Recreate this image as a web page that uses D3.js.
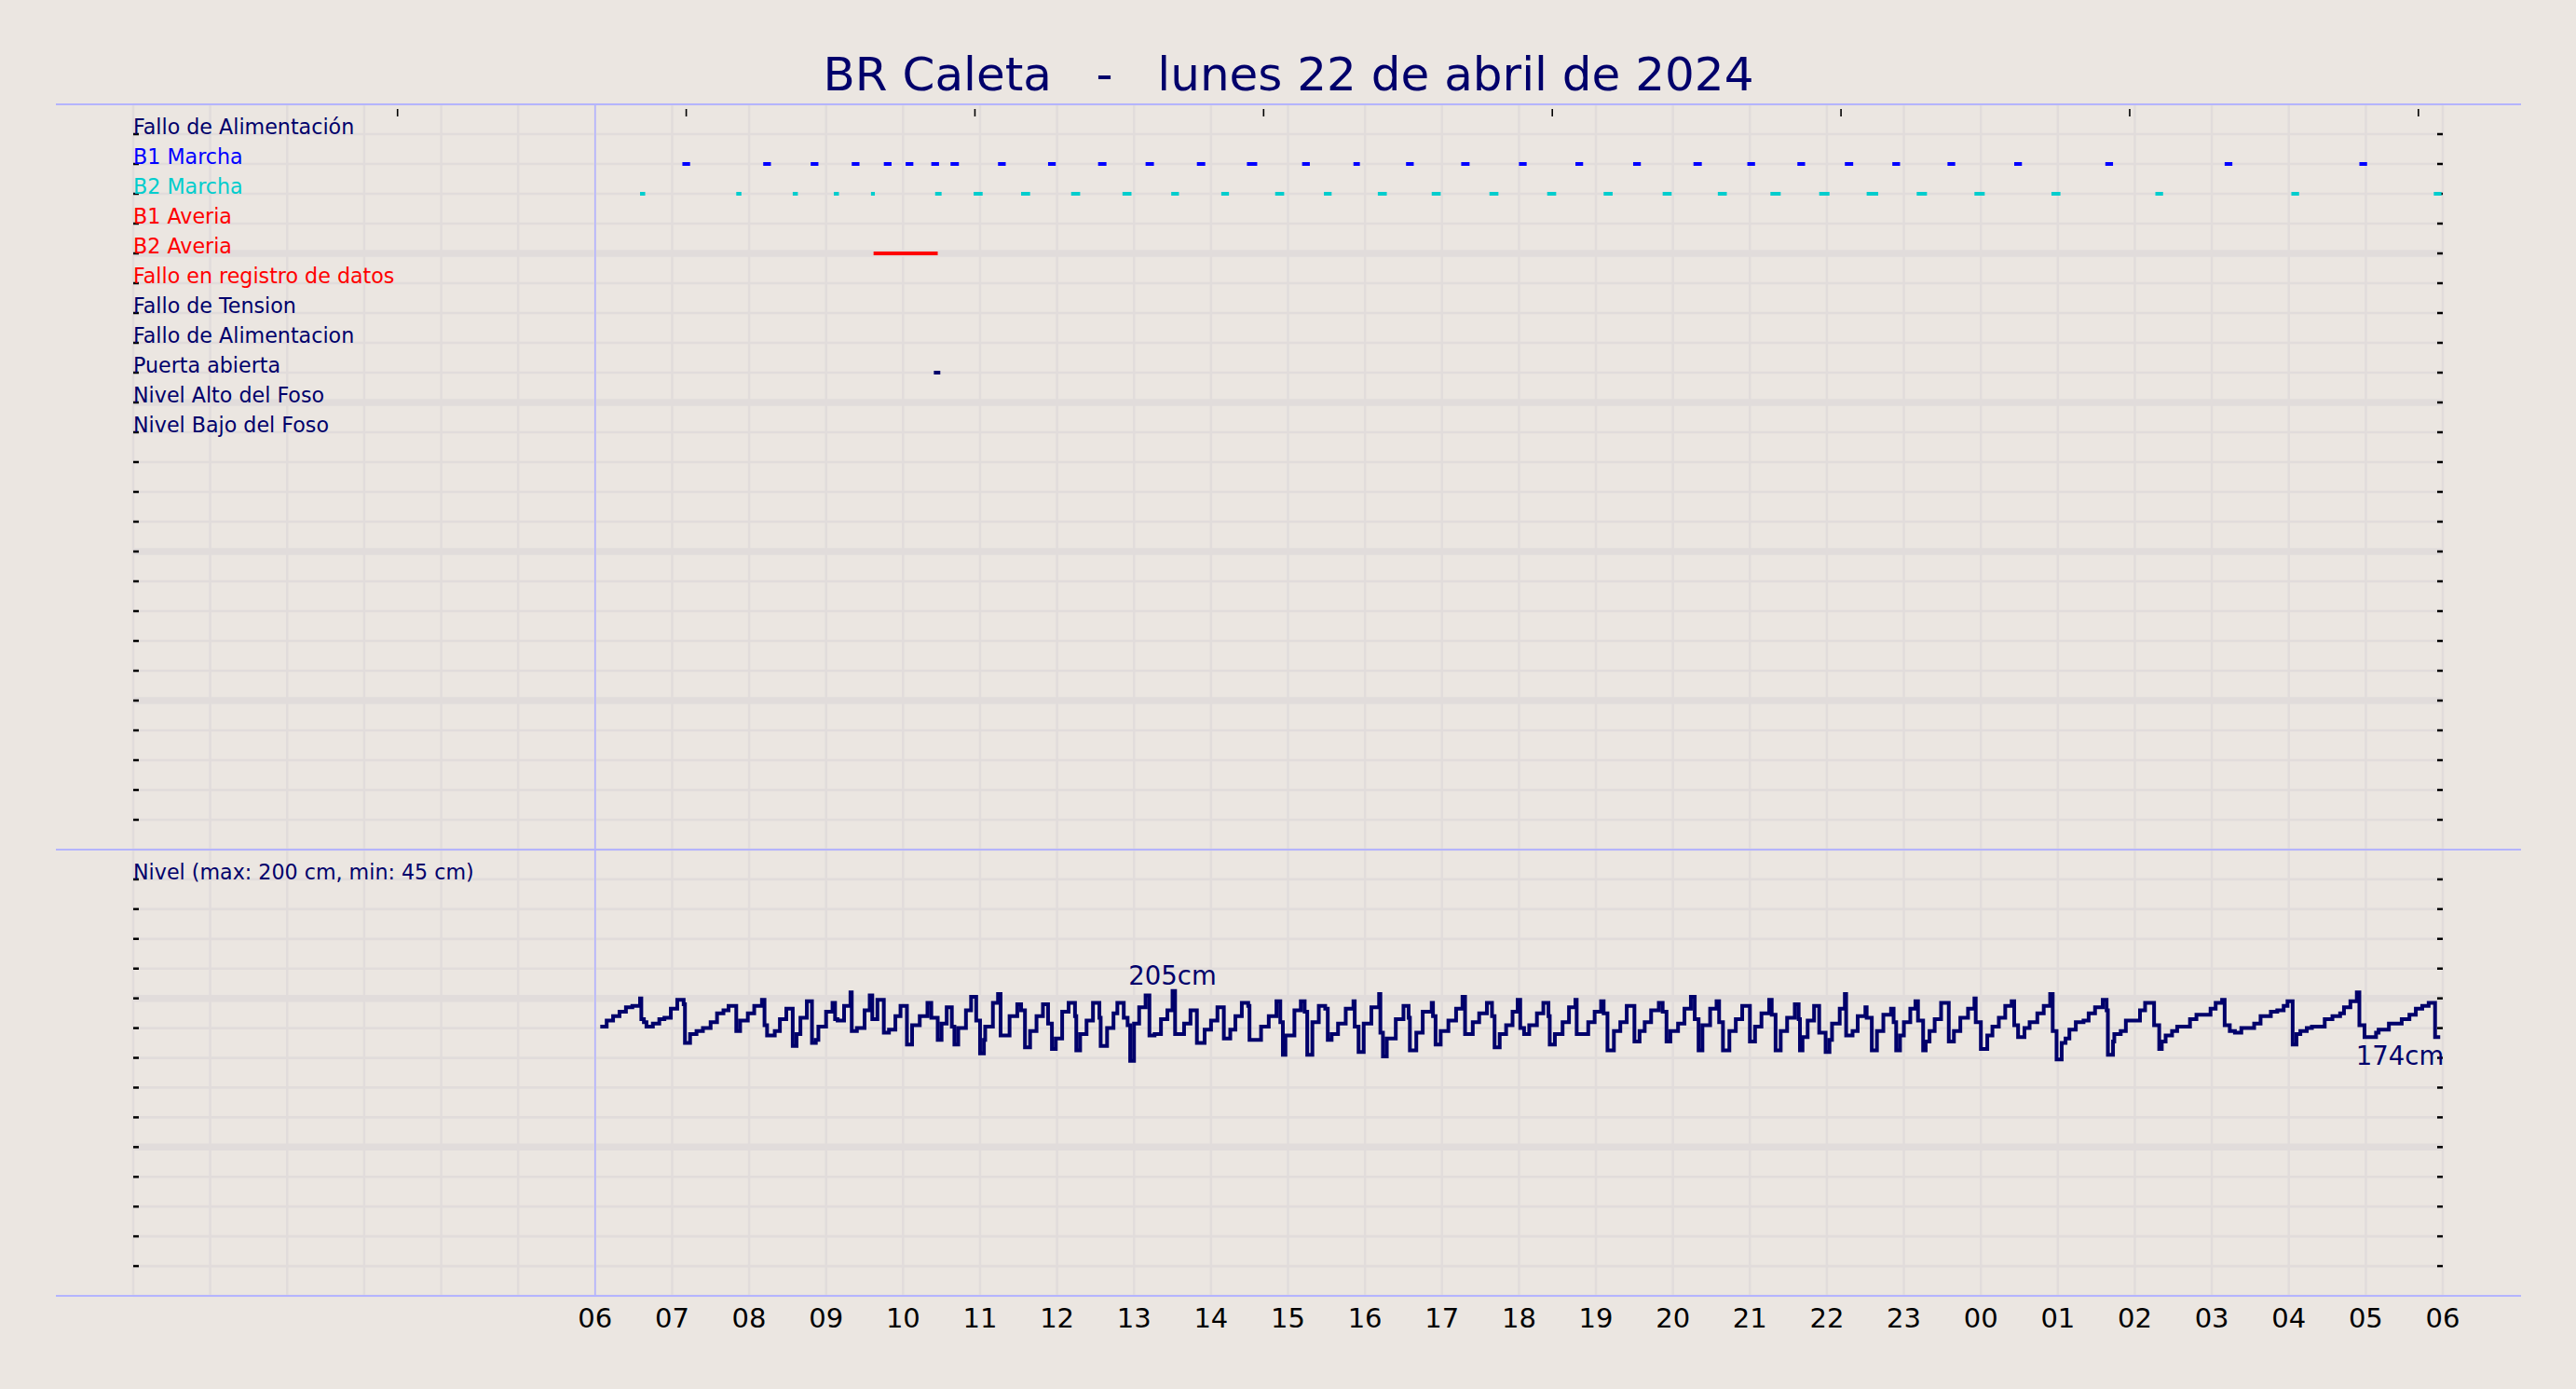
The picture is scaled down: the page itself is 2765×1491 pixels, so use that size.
<!DOCTYPE html>
<html><head><meta charset="utf-8">
<script src="https://cdn.jsdelivr.net/npm/d3@7"></script>
<style>
html,body{margin:0;padding:0;background:#ebe6e1;}
svg{display:block;font-family:"DejaVu Sans",sans-serif;}
</style>
</head><body>
<svg id="chart" width="2765" height="1491"></svg>
<script>
// ---------- DATA ----------
const chartTitle = "BR Caleta   -   lunes 22 de abril de 2024";
const signalNames = ["Fallo de Alimentación","B1 Marcha","B2 Marcha","B1 Averia","B2 Averia",
  "Fallo en registro de datos","Fallo de Tension","Fallo de Alimentacion","Puerta abierta",
  "Nivel Alto del Foso","Nivel Bajo del Foso"];
const signalColors = ["#00006b","#0000ff","#00cdcd","#ff0000","#ff0000","#ff0000",
  "#00006b","#00006b","#00006b","#00006b","#00006b"];
const levelTitle = "Nivel (max: 200 cm, min: 45 cm)";
// hour tick labels (minutes after 06:00)
const hourLabels = ["06","07","08","09","10","11","12","13","14","15","16","17","18",
  "19","20","21","22","23","00","01","02","03","04","05","06"];
const topTickMinutes = [-154, 71, 296, 521, 746, 971, 1196, 1421];

// events: start minute after 06:00, duration in minutes
const b1Start = [68,131,168,200,225,242,262,277,314,353,392,429,469,508,551,591,632,675,720,764,809,856,898,937,974,1011,1054,1106,1177,1270,1375];
const b1Dur   = [6,6,6,6,6,6,6,6.5,6,6,6.5,6.5,6.5,8,6,5,6,6.5,6,6,6,6.5,6,6,6.5,6,6,6,6,6,6];
const b2Start = [35,110,154,186,215,265,295,332,371,411,449,488,530,568,610,652,697,742,786,832,875,916,954,991,1030,1075,1135,1216,1322,1433];
const b2Dur   = [4,4,4,4,3,5,7,7,7,7,6,6,7,6,7,7,7,7,7,7,7,8,8,9,8,8,7,6,6,6];
const b2AveriaStart = [217];
const b2AveriaDur   = [50];
const puertaStart = [264];
const puertaDur   = [5];

// level (cm), step values: minute after 06:00
const levelMinute = [4,9,14,19,24,29,35,36,38,40,45,50,54,59,64,69,70,74,79,84,90,95,100,104,110,113,119,124,130,132,134,140,144,149,154,157,160,165,169,172,174,180,185,187,189,194,199,200,204,210,214,216,220,225,229,234,
238,243,247,253,259,262,267,270,274,278,280,283,289,293,297,300,303,304,310,314,316,323,329,332,335,339,344,349,353,356,359,364,369,374,375,378,383,388,393,394,399,404,407,412,415,417,420,424,429,432,436,441,446,450,452,459,464,469,475,
480,485,490,495,499,504,509,510,519,525,531,534,536,538,545,550,553,555,559,564,569,571,574,579,585,591,592,595,599,605,611,612,614,617,624,630,634,635,640,645,652,653,655,659,665,671,676,678,684,689,695,699,701,705,710,715,
719,721,724,728,734,739,743,744,748,754,759,764,765,774,779,784,786,789,794,799,804,810,814,818,823,829,832,835,838,844,849,854,857,860,863,869,874,876,879,884,889,894,900,904,909,915,917,920,924,929,935,938,939,941,945,950,
954,959,962,964,970,974,975,980,984,990,991,995,999,1004,1010,1012,1014,1017,1020,1025,1029,1031,1035,1037,1040,1044,1049,1055,1059,1064,1070,1075,1076,1080,1085,1089,1094,1099,1104,1106,1109,1114,1118,1124,1129,1134,1136,1139,1143,1146,1149,1154,1160,1164,1169,1175,1178,1179,1183,1184,1189,1193,
1204,1208,1215,1219,1221,1224,1229,1233,1243,1248,1259,1263,1268,1270,1274,1278,1283,1293,1298,1306,1311,1316,1319,1323,1326,1329,1334,1338,1348,1354,1360,1363,1368,1373,1375,1379,1388,1390,1398,1408,1414,1419,1424,1429,1434,1438];
const levelCm = [181,185,188,191,194,195,200,186,184,181,183,186,187,193,199,196,170,176,178,180,184,190,192,195,178,185,190,195,199,182,175,178,186,193,168,176,187,198,170,172,181,191,197,186,185,195,204,178,180,192,202,186,199,177,179,188,
195,169,182,188,197,187,172,183,194,181,169,180,192,201,185,163,172,181,197,203,175,188,196,192,167,178,188,196,183,166,173,191,197,188,165,176,185,197,187,168,180,190,197,187,182,158,183,194,202,175,176,186,192,205,176,183,192,170,179,
185,194,173,179,188,197,195,172,181,188,198,184,162,175,192,198,191,162,184,195,193,172,176,183,193,198,181,164,183,194,203,177,161,173,186,195,187,165,177,191,197,188,169,178,185,193,201,176,184,190,197,188,167,176,182,191,
199,180,176,182,190,197,188,169,176,184,194,199,176,184,191,198,190,165,178,184,195,171,178,184,192,197,191,171,178,183,193,201,186,165,182,193,198,184,165,178,186,195,171,181,190,199,189,165,178,187,196,186,165,174,185,195,
177,164,172,183,193,203,175,178,188,194,187,165,178,189,193,184,165,175,184,193,198,185,165,171,178,186,197,171,178,187,193,200,184,166,175,181,187,195,198,182,174,180,184,190,195,203,178,159,170,173,179,184,185,190,194,199,192,162,171,176,178,185,
192,197,182,166,171,175,178,181,186,189,193,197,199,182,178,177,180,183,188,191,192,195,198,169,176,178,180,181,186,188,190,194,198,204,182,174,177,179,183,186,189,193,195,197,174,174];

// ---------- LAYOUT ----------
const svg = d3.select("#chart");
const W = 2765, H = 1491;
const plotL = 143, plotR = 2622;
const topY0 = 112, topY1 = 912, botY1 = 1391;
const lineL = 60, lineR = 2706;
const bg = "#ebe6e1", gridC = "#e1dcdb", lav = "#b4b4ff", navy = "#00006b";

svg.append("rect").attr("width", W).attr("height", H).attr("fill", bg);

const x = d3.scaleLinear().domain([-360, 1440]).range([plotL, plotR]);
const rowY = d3.scaleLinear().domain([0, 25]).range([topY0, topY1]);
const yL = d3.scaleLinear().domain([0, 300]).range([botY1, topY1]);

const grid = svg.append("g");
// vertical hour gridlines
grid.selectAll("line.v").data(d3.range(-360, 1441, 60)).join("line")
  .attr("x1", d => x(d)).attr("x2", d => x(d)).attr("y1", topY0).attr("y2", botY1)
  .attr("stroke", gridC).attr("stroke-width", 2.5);
// top panel horizontal rows
grid.selectAll("line.h1").data(d3.range(0, 26)).join("line")
  .attr("x1", plotL).attr("x2", plotR).attr("y1", d => rowY(d)).attr("y2", d => rowY(d))
  .attr("stroke", gridC).attr("stroke-width", d => (d % 5 === 0 && d > 0 && d < 25) ? 7.5 : 2.7);
// bottom panel horizontal rows
grid.selectAll("line.h2").data(d3.range(0, 301, 20)).join("line")
  .attr("x1", plotL).attr("x2", plotR).attr("y1", d => yL(d)).attr("y2", d => yL(d))
  .attr("stroke", gridC).attr("stroke-width", d => (d === 100 || d === 200) ? 7.5 : 2.7);

// small row ticks on both sides
const tickRowsY = d3.range(1, 25).map(k => rowY(k)).concat(d3.range(20, 300, 20).map(v => yL(v)));
const ticks = svg.append("g");
ticks.selectAll("line.r").data(tickRowsY).join("line")
  .attr("x1", plotR - 6).attr("x2", plotR).attr("y1", d => d).attr("y2", d => d)
  .attr("stroke", "#000").attr("stroke-width", 2.5);
ticks.selectAll("line.l").data(tickRowsY).join("line")
  .attr("x1", plotL).attr("x2", plotL + 6).attr("y1", d => d).attr("y2", d => d)
  .attr("stroke", "#000").attr("stroke-width", 2.5);
// top ticks
ticks.selectAll("line.t").data(topTickMinutes).join("line")
  .attr("x1", d => x(d)).attr("x2", d => x(d)).attr("y1", topY0 + 5).attr("y2", topY0 + 13)
  .attr("stroke", "#000").attr("stroke-width", 1.6);

// frame lines (lavender)
svg.selectAll("line.fr").data([topY0, topY1, botY1]).join("line")
  .attr("x1", lineL).attr("x2", lineR).attr("y1", d => d).attr("y2", d => d)
  .attr("stroke", lav).attr("stroke-width", 2);
svg.append("line").attr("x1", x(0)).attr("x2", x(0)).attr("y1", topY0).attr("y2", botY1)
  .attr("stroke", lav).attr("stroke-width", 1.6);

// title
svg.append("text").attr("x", 1383).attr("y", 97).attr("text-anchor", "middle")
  .style("white-space", "pre").attr("font-size", 50).attr("fill", navy).text(chartTitle);

// signal labels
svg.append("g").selectAll("text").data(signalNames).join("text")
  .attr("x", plotL).attr("y", (d, i) => rowY(i + 1))
  .attr("font-size", 22.2).attr("fill", (d, i) => signalColors[i]).text(d => d);

// event marks
function drawEvents(starts, durs, row, color) {
  svg.append("g").selectAll("rect").data(starts).join("rect")
    .attr("x", d => x(d)).attr("width", (d, i) => Math.max(2, x(d + durs[i]) - x(d)))
    .attr("y", rowY(row) - 2).attr("height", 4).attr("fill", color);
}
drawEvents(b1Start, b1Dur, 2, signalColors[1]);
drawEvents(b2Start, b2Dur, 3, signalColors[2]);
drawEvents(b2AveriaStart, b2AveriaDur, 5, signalColors[4]);
drawEvents(puertaStart, puertaDur, 9, navy);

// level panel
svg.append("text").attr("x", plotL).attr("y", yL(280)).attr("font-size", 22.2)
  .attr("fill", navy).text(levelTitle);

const levelData = levelMinute.map((t, i) => ({t, v: levelCm[i]}));
const line = d3.line().x(d => x(d.t)).y(d => yL(d.v)).curve(d3.curveStepAfter);
svg.append("path").datum(levelData).attr("d", line).attr("fill", "none")
  .attr("stroke", navy).attr("stroke-width", 4).attr("stroke-linejoin", "miter");

const iMax = d3.maxIndex(levelData, d => d.v);
svg.append("text").attr("x", x(levelData[iMax].t)).attr("y", yL(levelData[iMax].v) - 7)
  .attr("text-anchor", "middle").attr("font-size", 27.5).attr("fill", navy)
  .text(levelData[iMax].v + "cm");
const last = levelData[levelData.length - 1];
svg.append("text").attr("x", x(last.t) + 4).attr("y", yL(last.v) + 30)
  .attr("text-anchor", "end").attr("font-size", 27.5).attr("fill", navy)
  .text(last.v + "cm");

// x axis labels
svg.append("g").selectAll("text").data(hourLabels).join("text")
  .attr("x", (d, i) => x(i * 60)).attr("y", 1425).attr("text-anchor", "middle")
  .attr("font-size", 29).attr("fill", "#000").text(d => d);
</script>
</body></html>
